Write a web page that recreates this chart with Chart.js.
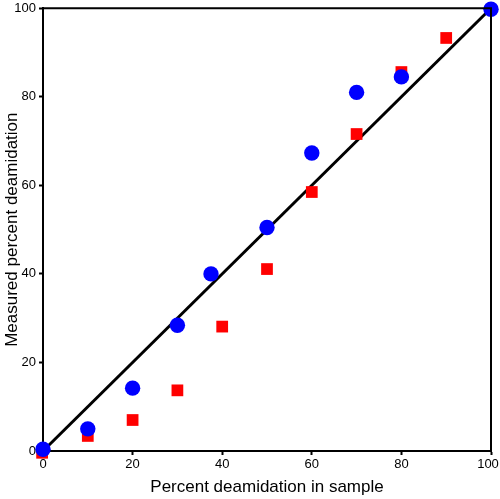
<!DOCTYPE html>
<html>
<head>
<meta charset="utf-8">
<script src="https://cdn.jsdelivr.net/npm/chart.js@4/dist/chart.umd.min.js"></script>
<style>
  html, body { margin: 0; padding: 0; background: #fff; }
  #wrap { width: 500px; height: 499px; }
</style>
</head>
<body>
<div id="wrap"><canvas id="c" width="500" height="499"></canvas></div>
<script>
// Data
const blueX = [0, 10, 20, 30, 37.5, 50, 60, 70, 80, 100];
const blueY = [0.4, 5, 14.2, 28.4, 40, 50.5, 67.3, 81, 84.5, 99.8];
const redX = [-0.2, 10, 20, 30, 40, 50, 60, 70, 80, 90];
const redY = [-0.4, 3.4, 7, 13.7, 28.1, 41.1, 58.5, 71.6, 85.6, 93.3];
const lineX = [0, 100];
const lineY = [0, 100];
const xTitle = 'Percent deamidation in sample';
const yTitle = 'Measured percent deamidation';

const pts = (xs, ys) => xs.map((x, i) => ({ x: x, y: ys[i] }));

const frame = {
  id: 'frame',
  beforeDraw(chart) {
    // keep the last x tick label inside the canvas, as in the reference
    const items = chart.scales.x.getLabelItems();
    const last = items[items.length - 1];
    if (last && last.options && last.options.translation) {
      const t = last.options.translation;
      last.options.translation = [t[0] - 3, t[1]];
    }
  },
  afterDatasetsDraw(chart) {
    const { ctx, chartArea: a } = chart;
    ctx.save();
    ctx.strokeStyle = '#000';
    ctx.lineWidth = 2;
    ctx.beginPath();
    ctx.moveTo(a.left, a.top);
    ctx.lineTo(a.right, a.top);
    ctx.lineTo(a.right, a.bottom);
    ctx.stroke();
    ctx.restore();
  }
};

new Chart(document.getElementById('c'), {
  type: 'scatter',
  data: {
    datasets: [
      {
        type: 'line',
        data: pts(lineX, lineY),
        borderColor: '#000',
        borderWidth: 3,
        pointRadius: 0,
        fill: false,
        order: 3
      },
      {
        data: pts(redX, redY),
        pointStyle: 'rect',
        pointRadius: 8.3,
        backgroundColor: '#ff0000',
        borderColor: '#ff0000',
        borderWidth: 0,
        order: 2
      },
      {
        data: pts(blueX, blueY),
        pointStyle: 'circle',
        pointRadius: 7.7,
        backgroundColor: '#0000ff',
        borderColor: '#0000ff',
        borderWidth: 0,
        order: 1
      }
    ]
  },
  options: {
    responsive: false,
    animation: false,
    clip: false,
    layout: { padding: { top: 8, right: 9, bottom: 0, left: 0 } },
    plugins: { legend: { display: false }, tooltip: { enabled: false } },
    scales: {
      x: {
        type: 'linear',
        min: 0, max: 100,
        afterFit(s) { s.height = 48; s.paddingLeft = 0; s.paddingRight = 0; },
        ticks: { stepSize: 20, color: '#000', padding: 2, maxRotation: 0,
                 font: { family: 'Liberation Sans, Arial, sans-serif', size: 13 } },
        grid: { display: true, drawOnChartArea: false, drawTicks: true, tickLength: 4,
                tickWidth: 2, tickColor: '#000', color: '#000' },
        border: { display: true, color: '#000', width: 2 },
        title: { display: true, text: xTitle, color: '#000',
                 padding: { top: 0, bottom: 1 },
                 font: { family: 'Liberation Sans, Arial, sans-serif', size: 17 } }
      },
      y: {
        type: 'linear',
        min: 0, max: 100,
        afterFit(s) { s.width = 43; s.paddingTop = 0; s.paddingBottom = 0; },
        ticks: { stepSize: 20, color: '#000', padding: 3,
                 font: { family: 'Liberation Sans, Arial, sans-serif', size: 13 } },
        grid: { display: true, drawOnChartArea: false, drawTicks: true, tickLength: 4,
                tickWidth: 2, tickColor: '#000', color: '#000' },
        border: { display: true, color: '#000', width: 2 },
        title: { display: true, text: yTitle, color: '#000',
                 padding: { top: 2, bottom: 0 },
                 font: { family: 'Liberation Sans, Arial, sans-serif', size: 17 } }
      }
    }
  },
  plugins: [frame]
});
</script>
</body>
</html>
